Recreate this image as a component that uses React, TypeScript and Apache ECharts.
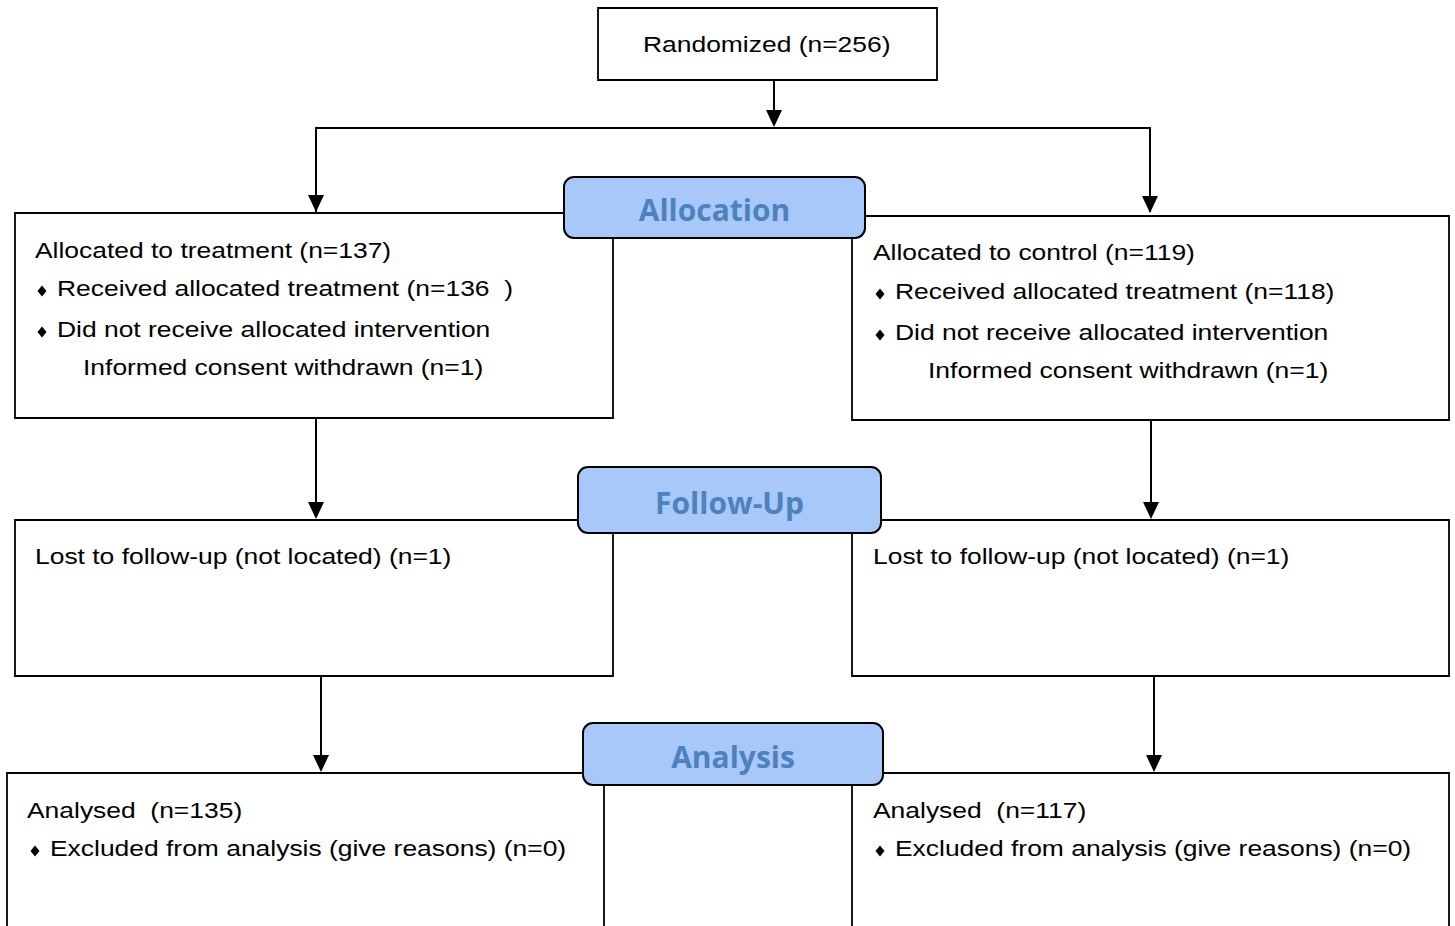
import React, { useEffect, useRef } from "react";
import * as echarts from "echarts";

// ---- Data (text content & counts) ----
const randomizedLines = ["Randomized (n=256)"];
const stageLabels = ["Allocation", "Follow-Up", "Analysis"];
const allocTreatmentLines = [
  "Allocated to treatment (n=137)",
  "Received allocated treatment (n=136  )",
  "Did not receive allocated intervention",
  "Informed consent withdrawn (n=1)",
];
const allocControlLines = [
  "Allocated to control (n=119)",
  "Received allocated treatment (n=118)",
  "Did not receive allocated intervention",
  "Informed consent withdrawn (n=1)",
];
const followTreatmentLines = ["Lost to follow-up (not located) (n=1)"];
const followControlLines = ["Lost to follow-up (not located) (n=1)"];
const analysisTreatmentLines = ["Analysed  (n=135)", "Excluded from analysis (give reasons) (n=0)"];
const analysisControlLines = ["Analysed  (n=117)", "Excluded from analysis (give reasons) (n=0)"];
// line kinds: 0 = plain, 1 = bullet, 2 = indented
const allocKinds = [0, 1, 1, 2];
const followKinds = [0];
const analysisKinds = [0, 1];

const FONT = "'Liberation Sans', Arial, Helvetica, sans-serif";
const LABEL_FONT = "'Open Sans', 'Noto Sans', sans-serif";
const SX = 1.23;
const FS = 21.5;

function box(x: number, y: number, w: number, h: number): any {
  return {
    type: "rect",
    shape: { x, y, width: w, height: h },
    style: { fill: "#ffffff", stroke: "#000000", lineWidth: 1.8 },
    z: 1,
  };
}

function txt(x: number, y: number, s: string, z = 3): any {
  return {
    type: "text",
    x,
    y,
    scaleX: SX,
    scaleY: 1,
    z,
    style: {
      text: s,
      fontSize: FS,
      fontFamily: FONT,
      fill: "#000000",
      textAlign: "left",
      textVerticalAlign: "middle",
    },
  };
}

function diamond(cx: number, cy: number): any {
  return {
    type: "polygon",
    z: 3,
    shape: {
      points: [
        [cx, cy - 5.5],
        [cx + 4.5, cy],
        [cx, cy + 5.5],
        [cx - 4.5, cy],
      ],
    },
    style: { fill: "#000000" },
  };
}

function lines(
  xs: number[],
  ys: number[],
  textLines: string[],
  kinds: number[]
): any[] {
  // xs: [plainX, bulletX, bulletTextX, indentX]
  const out: any[] = [];
  textLines.forEach((s, i) => {
    const k = kinds[i];
    const y = ys[i];
    if (k === 0) out.push(txt(xs[0], y, s));
    else if (k === 1) {
      out.push(diamond(xs[1], y + 3));
      out.push(txt(xs[2], y, s));
    } else out.push(txt(xs[3], y, s));
  });
  return out;
}

function arrow(x: number, y1: number, y2: number): any[] {
  return [
    {
      type: "line",
      z: 2,
      shape: { x1: x, y1, x2: x, y2: y2 - 10 },
      style: { stroke: "#000000", lineWidth: 2 },
    },
    {
      type: "polygon",
      z: 2,
      shape: {
        points: [
          [x - 8, y2 - 17],
          [x + 8, y2 - 17],
          [x, y2],
        ],
      },
      style: { fill: "#000000" },
    },
  ];
}

function stageLabel(x: number, y: number, w: number, h: number, s: string): any[] {
  return [
    {
      type: "rect",
      z: 4,
      shape: { x, y, width: w, height: h, r: 10 },
      style: { fill: "#a8c8fa", stroke: "#000000", lineWidth: 2 },
    },
    {
      type: "text",
      z: 5,
      x: x + w / 2,
      y: y + h / 2 + 2,
      style: {
        text: s,
        fontSize: 30,
        fontWeight: "bold",
        fontFamily: LABEL_FONT,
        fill: "#4f81bd",
        textAlign: "center",
        textVerticalAlign: "middle",
      },
    },
  ];
}

export default function App() {
  const ref = useRef<HTMLDivElement>(null);
  useEffect(() => {
    if (!ref.current) return;
    const chart = echarts.init(ref.current, undefined, { renderer: "svg" });
    const elements: any[] = [];

    // Randomized box
    elements.push(box(598, 8, 339, 72));
    elements.push(txt(643, 44, randomizedLines[0]));
    elements.push(...arrow(774, 80, 127));

    // split line
    elements.push({
      type: "polyline",
      z: 2,
      shape: {
        points: [
          [316, 212],
          [316, 128],
          [1150, 128],
          [1150, 212],
        ],
      },
      style: { stroke: "#000000", lineWidth: 2, fill: "none" },
    });
    elements.push(...arrow(316, 128, 212));
    elements.push(...arrow(1150, 128, 213));

    // Allocation boxes
    elements.push(box(15, 213, 598, 205));
    elements.push(box(852, 216, 597, 204));
    elements.push(
      ...lines([35, 42, 57, 83], [250, 288, 329, 367], allocTreatmentLines, allocKinds)
    );
    elements.push(
      ...lines([873, 880, 895, 928], [252, 291, 332, 370], allocControlLines, allocKinds)
    );
    elements.push(...stageLabel(564, 177, 301, 61, stageLabels[0]));

    // arrows to follow-up
    elements.push(...arrow(316, 418, 519));
    elements.push(...arrow(1151, 420, 519));

    // Follow-up boxes
    elements.push(box(15, 520, 598, 156));
    elements.push(box(852, 520, 597, 156));
    elements.push(...lines([35, 42, 57, 83], [556], followTreatmentLines, followKinds));
    elements.push(...lines([873, 880, 895, 928], [556], followControlLines, followKinds));
    elements.push(...stageLabel(578, 467, 303, 66, stageLabels[1]));

    // arrows to analysis
    elements.push(...arrow(321, 676, 772));
    elements.push(...arrow(1154, 676, 772));

    // Analysis boxes
    elements.push(box(7, 773, 597, 170));
    elements.push(box(852, 773, 597, 170));
    elements.push(...lines([27, 35, 50, 83], [810, 848], analysisTreatmentLines, analysisKinds));
    elements.push(...lines([873, 880, 895, 928], [810, 848], analysisControlLines, analysisKinds));
    elements.push(...stageLabel(583, 723, 300, 62, stageLabels[2]));

    chart.setOption({
      animation: false,
      backgroundColor: "#ffffff",
      graphic: { elements },
    });
    return () => chart.dispose();
  }, []);
  return (
    <div
      ref={ref}
      style={{ position: "fixed", left: 0, top: 0, width: 1455, height: 926 }}
    />
  );
}
